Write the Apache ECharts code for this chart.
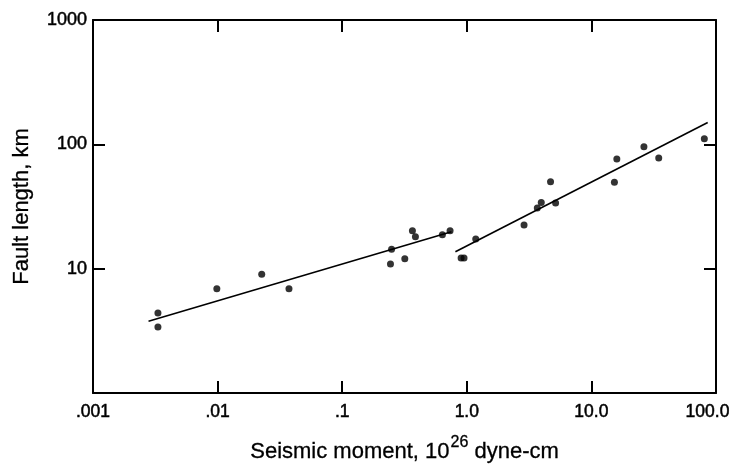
<!DOCTYPE html>
<html>
<head>
<meta charset="utf-8">
<title>Fault length vs seismic moment</title>
<script src="https://cdn.jsdelivr.net/npm/echarts@6/dist/echarts.min.js"></script>
<style>
  html, body { margin: 0; padding: 0; background: #fff; }
  #chart { width: 733px; height: 464px; }
</style>
</head>
<body>
<div id="chart"></div>
<script>
// Seismic moment (10^26 dyne-cm) and fault length (km) for each earthquake
const seismicMoment = [
  0.00332, 0.00332, 0.00986, 0.0226, 0.0374,
  0.244, 0.318, 0.249, 0.366, 0.387, 0.637, 0.734,
  0.90, 0.95, 1.18,
  2.88, 3.68, 3.96, 5.16, 4.70,
  15.3, 16.0, 26.4, 34.7, 80.6
];
const faultLength = [
  4.4, 3.4, 6.9, 9.0, 6.9,
  10.9, 12.0, 14.3, 20.2, 18.1, 18.7, 20.2,
  12.2, 12.2, 17.3,
  22.5, 30.7, 34.1, 33.7, 49.9,
  49.5, 76.2, 95.8, 77.6, 111
];

// Fitted trend lines: [moment, length] end points
const smallEventFit = [[0.00279, 3.77], [0.753, 19.8]];
const largeEventFit = [[0.81, 13.7], [85.8, 150]];

// Decade tick labels
const xTickLabels = { '-3': '.001', '-2': '.01', '-1': '.1', '0': '1.0', '1': '10.0', '2': '100.0' };
const yTickLabels = { '0': '', '1': '10', '2': '100', '3': '1000' };

const points = seismicMoment.map((m, i) => [m, faultLength[i]]);
const decade = v => String(Math.round(Math.log10(v)));

const font = 'Liberation Sans, Arial, Helvetica, sans-serif';
const ink = '#000';
// slightly heavier strokes for the printed-looking type
const heavy = { textBorderColor: ink, textBorderWidth: 0.5 };

const chart = echarts.init(document.getElementById('chart'), null, { renderer: 'canvas' });

const frameLine = { show: true, lineStyle: { color: ink, width: 2 } };
const tickIn = { show: true, inside: true, length: 12, lineStyle: { color: ink, width: 2 } };

chart.setOption({
  animation: false,
  backgroundColor: '#fff',
  grid: { left: 93, right: 17, top: 20, bottom: 71, outerBoundsMode: 'none', containLabel: false },
  xAxis: [
    {
      type: 'log', logBase: 10, min: 0.001, max: 100,
      position: 'bottom',
      axisLine: frameLine,
      axisTick: tickIn,
      splitLine: { show: false },
      axisLabel: Object.assign({
        color: ink, fontFamily: font, fontSize: 17.5, margin: 10,
        formatter: v => {
          const d = decade(v);
          const txt = xTickLabels[d] ?? '';
          // the last label is pulled left so it stays inside the page
          return d === '2' ? '{last|' + txt + '}' : txt;
        },
        rich: {
          last: Object.assign({ color: ink, fontFamily: font, fontSize: 17.5, padding: [0, 17, 0, 0] }, heavy)
        }
      }, heavy),
      name: '{t|Seismic moment, 10}{s|26}{t| dyne-cm}',
      nameLocation: 'middle',
      nameGap: 42,
      nameTextStyle: {
        rich: {
          t: { fontFamily: font, fontSize: 22, color: ink, lineHeight: 28, verticalAlign: 'bottom', textBorderColor: ink, textBorderWidth: 0.3 },
          s: { fontFamily: font, fontSize: 16, color: ink, lineHeight: 28, verticalAlign: 'top', padding: [0, 0, 0, 1], textBorderColor: ink, textBorderWidth: 0.3 }
        }
      }
    },
    {
      type: 'log', logBase: 10, min: 0.001, max: 100,
      position: 'top',
      axisLine: frameLine,
      axisTick: tickIn,
      axisLabel: { show: false },
      splitLine: { show: false }
    }
  ],
  yAxis: [
    {
      type: 'log', logBase: 10, min: 1, max: 1000,
      position: 'left',
      axisLine: frameLine,
      axisTick: tickIn,
      splitLine: { show: false },
      axisLabel: Object.assign({
        color: ink, fontFamily: font, fontSize: 18, margin: 6,
        formatter: v => yTickLabels[decade(v)] ?? ''
      }, heavy),
      name: 'Fault length, km',
      nameLocation: 'middle',
      nameGap: 60,
      nameTextStyle: { fontFamily: font, fontSize: 22, color: ink, textBorderColor: ink, textBorderWidth: 0.3 }
    },
    {
      type: 'log', logBase: 10, min: 1, max: 1000,
      position: 'right',
      axisLine: frameLine,
      axisTick: tickIn,
      axisLabel: { show: false },
      splitLine: { show: false }
    }
  ],
  series: [
    {
      type: 'scatter',
      data: points,
      symbol: 'circle',
      symbolSize: 7,
      itemStyle: { color: ink }
    },
    {
      type: 'line',
      data: smallEventFit,
      showSymbol: false,
      lineStyle: { color: ink, width: 1.6 }
    },
    {
      type: 'line',
      data: largeEventFit,
      showSymbol: false,
      lineStyle: { color: ink, width: 1.6 }
    }
  ]
});
</script>
</body>
</html>
